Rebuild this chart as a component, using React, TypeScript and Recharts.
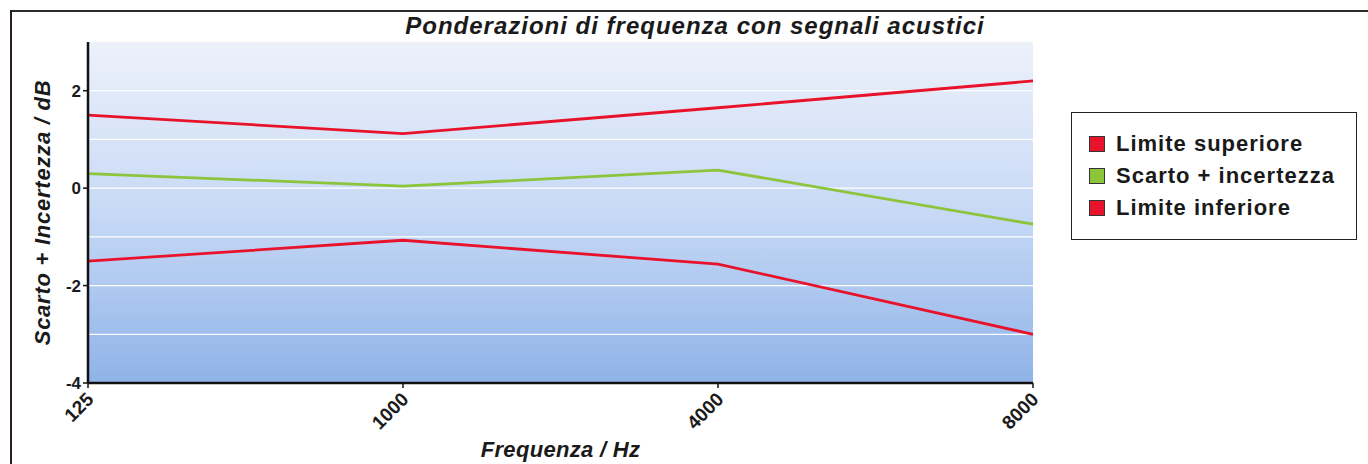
import React from 'react';
import { LineChart, Line, XAxis, YAxis, CartesianGrid } from 'recharts';

const frequencies = ['125', '1000', '4000', '8000'];
const upperLimit = [1.5, 1.12, 1.65, 2.2];
const deviation = [0.3, 0.04, 0.37, -0.74];
const lowerLimit = [-1.5, -1.07, -1.56, -3.0];
const yTicks = [-4, -2, 0, 2];
const gridValues = [-3, -2, -1, 0, 1, 2];

const RED = '#e8132b';
const GREEN = '#8cc43c';
const FONT = '"Liberation Sans", Arial, sans-serif';

const seriesInfo = [
  { key: 'upper', name: 'Limite superiore', color: RED },
  { key: 'dev', name: 'Scarto + incertezza', color: GREEN },
  { key: 'lower', name: 'Limite inferiore', color: RED },
];

const data = frequencies.map((f, i) => ({
  f,
  upper: upperLimit[i],
  dev: deviation[i],
  lower: lowerLimit[i],
}));

// legend drawn as a plain box next to the chart
const LegendBox = () => (
  <div
    style={{
      position: 'absolute',
      left: 1071,
      top: 112,
      width: 286,
      height: 128,
      border: '1.5px solid #222',
      background: '#fff',
      boxSizing: 'border-box',
      padding: '15px 0 0 17px',
      fontFamily: FONT,
    }}
  >
    {seriesInfo.map(s => (
      <div key={s.key} style={{ display: 'flex', alignItems: 'center', height: 32 }}>
        <span
          style={{
            width: 16,
            height: 16,
            background: s.color,
            border: '1px solid #333',
            marginRight: 11,
            display: 'inline-block',
            boxSizing: 'border-box',
          }}
        />
        <span style={{ fontSize: 22, letterSpacing: 1, fontWeight: 700, color: '#1a1a1a' }}>{s.name}</span>
      </div>
    ))}
  </div>
);

const XTick = (props: any) => {
  const { x, y, payload } = props;
  const ax = x - 3;
  const ay = y + 1;
  return (
    <text
      x={ax}
      y={ay}
      transform={`rotate(-45, ${ax}, ${ay})`}
      textAnchor="end"
      dominantBaseline="hanging"
      fontFamily={FONT}
      fontWeight={700}
      fontSize={19}
      fill="#1a1a1a"
    >
      {payload.value}
    </text>
  );
};

export default function App() {
  return (
    <div style={{ position: 'absolute', left: 0, top: 0, width: 1368, height: 464, background: '#fff', overflow: 'hidden' }}>
      <svg width={0} height={0} style={{ position: 'absolute' }}>
        <defs>
          <linearGradient id="plotBg" x1="0" y1="0" x2="0" y2="1">
            <stop offset="0%" stopColor="#edf1fa" />
            <stop offset="50%" stopColor="#c7d9f6" />
            <stop offset="100%" stopColor="#8fb3e8" />
          </linearGradient>
        </defs>
      </svg>
      <div
        style={{
          position: 'absolute',
          left: 10,
          top: 10,
          width: 1358,
          height: 454,
          borderTop: '2px solid #2a2a2a',
          borderLeft: '2px solid #2a1a2a',
        }}
      />
      <div
        style={{
          position: 'absolute',
          left: 395,
          top: 12,
          width: 600,
          textAlign: 'center',
          fontFamily: FONT,
          fontSize: 24,
          letterSpacing: 1,
          fontWeight: 700,
          fontStyle: 'italic',
          color: '#1a1a1a',
        }}
      >
        Ponderazioni di frequenza con segnali acustici
      </div>
      <div style={{ position: 'absolute', left: 0, top: 0 }}>
        <LineChart width={1368} height={464} data={data} margin={{ top: 42, right: 335, bottom: 0, left: 0 }}>
          <CartesianGrid
            horizontal
            vertical={false}
            horizontalValues={gridValues}
            stroke="#ffffff"
            strokeWidth={1.2}
            fill="url(#plotBg)"
            fillOpacity={1}
          />
          <XAxis
            dataKey="f"
            type="category"
            padding={{ left: 0, right: 0 }}
            interval={0}
            axisLine={{ stroke: '#111', strokeWidth: 2.5 }}
            tickLine={{ stroke: '#111', strokeWidth: 1.5 }}
            tickSize={5}
            tick={<XTick />}
            height={81}
            label={{
              value: 'Frequenza / Hz',
              position: 'insideBottom',
              offset: 7,
              style: { fontFamily: FONT, fontSize: 22, letterSpacing: 0.3, fontWeight: 700, fontStyle: 'italic', fill: '#1a1a1a' },
            }}
          />
          <YAxis
            type="number"
            domain={[-4, 3]}
            ticks={yTicks}
            interval={0}
            allowDataOverflow
            width={88}
            axisLine={{ stroke: '#111', strokeWidth: 2.5 }}
            tickLine={{ stroke: '#111', strokeWidth: 1.5 }}
            tickSize={5}
            tickMargin={2}
            tick={{ fontFamily: FONT, fontSize: 17, fontWeight: 700, fill: '#1a1a1a' }}
            label={{
              value: 'Scarto + Incertezza / dB',
              angle: -90,
              position: 'center',
              dx: -2,
              style: { fontFamily: FONT, fontSize: 22, letterSpacing: 0.75, fontWeight: 700, fontStyle: 'italic', fill: '#1a1a1a' },
            }}
          />
          {seriesInfo.map(s => (
            <Line
              key={s.key}
              dataKey={s.key}
              name={s.name}
              type="linear"
              stroke={s.color}
              strokeWidth={2.8}
              dot={false}
              activeDot={false}
              isAnimationActive={false}
            />
          ))}
        </LineChart>
      </div>
      <LegendBox />
    </div>
  );
}
